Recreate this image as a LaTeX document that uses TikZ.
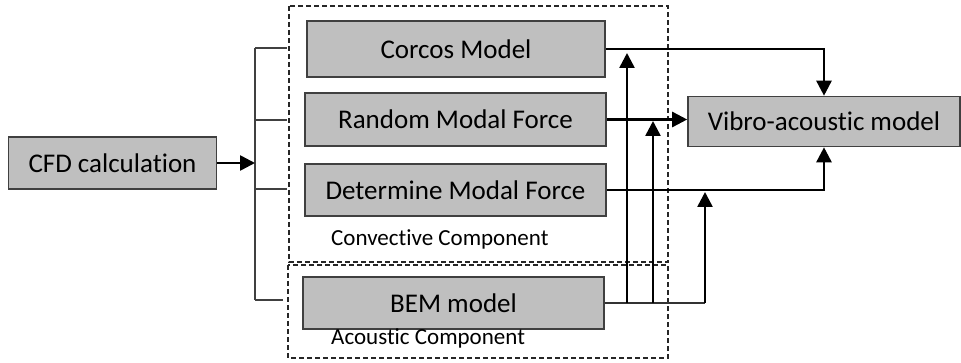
\documentclass[tikz,border=0pt]{standalone}
\usepackage{fontspec}
\setmainfont{Carlito}[Ligatures=NoCommon]
\usetikzlibrary{arrows.meta}
\definecolor{boxfill}{HTML}{BFBFBF}
\definecolor{boxline}{HTML}{404040}
\begin{document}
\begin{tikzpicture}[x=1pt,y=-1pt,
  box/.style={draw=boxline, line width=1.6pt, fill=boxfill, inner sep=0pt,
    font=\fontsize{27}{32}\selectfont},
  grp/.style={draw=black!85, line width=1.2pt, dash pattern=on 5pt off 3pt},
  lbl/.style={font=\fontsize{23}{28}\selectfont, anchor=base west, inner sep=0pt},
  arr/.style={line width=2.6pt, -{Triangle[width=15pt,length=15pt]}},
  bline/.style={line width=1.4pt, draw=black!75},
  thinl/.style={line width=1.4pt, draw=black!80}]
\useasboundingbox (0,0) rectangle (961,363);

% dashed group frames
\draw[grp] (289,6) rectangle (668,262);
\draw[grp] (288,265) rectangle (668,358);

% boxes
\node[box, minimum width=208pt, minimum height=52pt] (cfd) at (112.5,163) {CFD calculation};
\node[box, minimum width=298pt, minimum height=56pt] (corcos) at (456,49) {Corcos Model};
\node[box, minimum width=301pt, minimum height=53pt] (random) at (455.5,119.5) {Random Modal Force};
\node[box, minimum width=301pt, minimum height=52pt] (determine) at (455.5,190) {Determine Modal Force};
\node[box, minimum width=301pt, minimum height=52pt] (bem) at (453.5,303) {BEM model};
\node[box, minimum width=272pt, minimum height=50pt] (vibro) at (824,121.5) {Vibro-acoustic model};

\node[lbl] (conv) at (331,246) {Convective Component};
\node[lbl] (acou) at (331,344) {Acoustic Component};

% bracket from CFD
\coordinate (bt) at (255,48);
\coordinate (bb) at (255,300);
\coordinate (bm) at (255,163);
\draw[bline] (bt) -- (bb);
\draw[bline] (bt) -- (287,48);
\draw[bline] (255,120) -- (287,120);
\draw[bline] (255,189) -- (287,189);
\draw[bline] (bb) -- (283,300);
\draw[arr] (cfd.east) -- (bm);

% outputs to vibro-acoustic model
\draw[arr] (corcos.east) -| (vibro.north);
\draw[arr] (random.east) -- (random.east -| vibro.west);
\draw[arr] (determine.east) -| (vibro.south);

% BEM contributions
\coordinate (c1) at (627,303);
\coordinate (c2) at (653,303);
\coordinate (c3) at (705,303);
\draw[thinl] (bem.east) -- (c3);
\draw[arr] (c1) -- (627,53);
\draw[arr] (c2) -- (653,121);
\draw[arr] (c3) -- (705,192);
\end{tikzpicture}
\end{document}
